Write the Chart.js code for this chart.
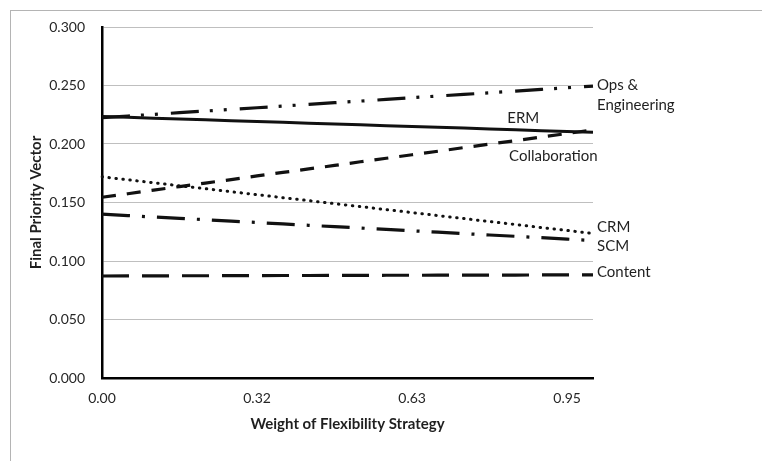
<!DOCTYPE html>
<html>
<head>
<meta charset="utf-8">
<script src="https://cdn.jsdelivr.net/npm/chart.js@4.4.1/dist/chart.umd.min.js"></script>
<style>
  html, body { margin: 0; padding: 0; background: #fff; }
  #wrap { position: relative; width: 762px; height: 461px; overflow: hidden; }
  #frame { position: absolute; left: 10px; top: 10px; width: 800px; height: 500px;
           border-left: 1.5px solid #b4b4b4; border-top: 1.5px solid #b4b4b4; box-sizing: border-box; }
  canvas { position: absolute; left: 0; top: 0; }
</style>
</head>
<body>
<div id="wrap">
  <div id="frame"></div>
  <canvas id="c" width="762" height="461"></canvas>
</div>
<script>
// ---- data ----
const categories = ['0.00','0.05','0.11','0.16','0.21','0.26','0.32','0.37','0.42','0.47',
                    '0.53','0.58','0.63','0.68','0.74','0.79','0.84','0.89','0.95','1.00'];
const opsEngineering = [0.2225,0.2239,0.2253,0.2268,0.2282,0.2296,0.2310,0.2324,0.2339,0.2353,
                        0.2367,0.2381,0.2396,0.2410,0.2424,0.2438,0.2452,0.2467,0.2481,0.2495];
const erm = [0.2235,0.2228,0.2221,0.2214,0.2207,0.2199,0.2192,0.2185,0.2178,0.2171,
             0.2164,0.2157,0.2150,0.2143,0.2136,0.2128,0.2121,0.2114,0.2107,0.2100];
const collaboration = [0.1545,0.1575,0.1606,0.1636,0.1666,0.1696,0.1727,0.1757,0.1787,0.1817,
                       0.1848,0.1878,0.1908,0.1938,0.1969,0.1999,0.2029,0.2059,0.2090,0.2120];
const crm = [0.1720,0.1694,0.1669,0.1643,0.1618,0.1592,0.1567,0.1541,0.1516,0.1490,
             0.1465,0.1439,0.1414,0.1388,0.1363,0.1337,0.1312,0.1286,0.1261,0.1235];
const scm = [0.1400,0.1388,0.1376,0.1364,0.1353,0.1341,0.1329,0.1317,0.1305,0.1293,
             0.1282,0.1270,0.1258,0.1246,0.1234,0.1222,0.1211,0.1199,0.1187,0.1175];
const content = [0.0872,0.0873,0.0873,0.0874,0.0874,0.0875,0.0875,0.0876,0.0876,0.0877,
                 0.0877,0.0878,0.0878,0.0879,0.0879,0.0880,0.0880,0.0881,0.0881,0.0882];
const seriesLabels = ['Ops & Engineering','ERM','Collaboration','CRM','SCM','Content'];
const yTickValues = [0.000,0.050,0.100,0.150,0.200,0.250,0.300];
const xTitle = 'Weight of Flexibility Strategy';
const yTitle = 'Final Priority Vector';

// ---- styling ----
const FONT = "Lato, 'Open Sans', sans-serif";
const TXT = '#262626';

// annotations: [text, category index anchor, value anchor, align]
const annotations = [
  ['Ops &', 19, 0.2505, 'left'],
  ['Engineering', 19, 0.2335, 'left'],
  ['ERM', 16.3, 0.2225, 'center'],
  ['Collaboration', 15.75, 0.1895, 'left'],
  ['CRM', 19, 0.1285, 'left'],
  ['SCM', 19, 0.1125, 'left'],
  ['Content', 19, 0.0905, 'left']
];

const labelPlugin = {
  id: 'seriesLabels',
  afterDatasetsDraw(chart) {
    const {ctx, scales: {x, y}} = chart;
    ctx.save();
    ctx.font = "15px " + FONT;
    ctx.fillStyle = '#1f1f1f';
    ctx.textBaseline = 'middle';
    annotations.forEach(([t, xi, v, al]) => {
      let px = x.getPixelForValue(xi);
      if (al === 'left' && xi === 19) px += 4;
      ctx.textAlign = al;
      ctx.fillText(t, px, y.getPixelForValue(v));
    });
    ctx.restore();
  }
};

function ds(label, data, dash, cap, width) {
  return {
    label, data,
    borderColor: '#111111',
    borderWidth: width || 3.2,
    borderDash: dash,
    borderCapStyle: cap || 'butt',
    pointRadius: 0,
    tension: 0,
    fill: false
  };
}

new Chart(document.getElementById('c'), {
  type: 'line',
  data: {
    labels: categories,
    datasets: [
      ds(seriesLabels[0], opsEngineering, [28, 11, 3, 11, 3, 13]),
      ds(seriesLabels[1], erm, [], 'butt', 3),
      ds(seriesLabels[2], collaboration, [14, 11]),
      ds(seriesLabels[3], crm, [0.5, 6.5], 'round', 3),
      ds(seriesLabels[4], scm, [28, 12, 3, 12]),
      ds(seriesLabels[5], content, [27, 13])
    ]
  },
  options: {
    responsive: false,
    animation: false,
    devicePixelRatio: 1,
    layout: { padding: { left: 0, top: 27, right: 169, bottom: 0 } },
    plugins: { legend: { display: false }, tooltip: { enabled: false } },
    scales: {
      x: {
        type: 'category',
        offset: false,
        grid: { display: false, drawTicks: false },
        border: { display: true, color: '#000000', width: 2.5 },
        ticks: {
          autoSkip: false, maxRotation: 0, minRotation: 0, padding: 12,
          color: TXT, font: { family: FONT, size: 14 },
          callback: function(val, idx) { return idx % 6 === 0 ? categories[idx] : ''; }
        },
        title: { display: true, text: xTitle, color: '#1f1f1f',
                 font: { family: FONT, size: 15, weight: 'bold' }, padding: { top: 0, bottom: 28 } },
        afterFit(scale) { scale.height = 83; }
      },
      y: {
        min: 0, max: 0.3,
        afterBuildTicks(scale) { scale.ticks = yTickValues.map(v => ({ value: v })); },
        grid: { color: '#bfbfbf', lineWidth: 1, drawTicks: false },
        border: { display: true, color: '#000000', width: 2.5 },
        ticks: {
          padding: 17, color: TXT, font: { family: FONT, size: 14 },
          callback: v => Number(v).toFixed(3)
        },
        title: { display: true, text: yTitle, color: '#1f1f1f',
                 font: { family: FONT, size: 15, weight: 'bold' }, padding: { top: 27, bottom: 0 } },
        afterFit(scale) { scale.width = 102; }
      }
    }
  },
  plugins: [labelPlugin]
});
</script>
</body>
</html>
